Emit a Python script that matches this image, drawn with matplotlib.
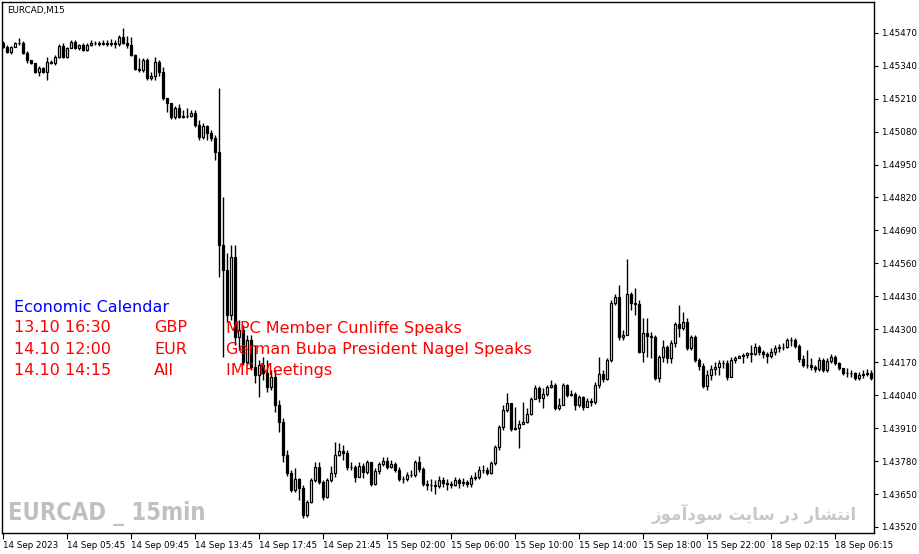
import matplotlib
matplotlib.use("Agg")
import matplotlib.pyplot as plt
import numpy as np

# EURCAD M15, one bar every 15 minutes
first_open = 1.45429
closes = [
    1.45414, 1.45394, 1.45414, 1.45429, 1.45429, 1.45390, 1.45362, 1.45350, 1.45315, 1.45331,
    1.45315, 1.45354, 1.45350, 1.45374, 1.45418, 1.45374, 1.45410, 1.45433, 1.45410, 1.45421,
    1.45402, 1.45421, 1.45429, 1.45429, 1.45425, 1.45429, 1.45425, 1.45429, 1.45425, 1.45453,
    1.45429, 1.45421, 1.45382, 1.45327, 1.45323, 1.45362, 1.45291, 1.45299, 1.45354, 1.45315,
    1.45212, 1.45193, 1.45137, 1.45173, 1.45137, 1.45141, 1.45141, 1.45153, 1.45106, 1.45058,
    1.45102, 1.45074, 1.45055, 1.44999, 1.44633, 1.44534, 1.44356, 1.44585, 1.44270, 1.44297,
    1.44171, 1.44258, 1.44151, 1.44120, 1.44159, 1.44128, 1.44072, 1.44112, 1.44001, 1.43934,
    1.43804, 1.43733, 1.43666, 1.43709, 1.43674, 1.43567, 1.43619, 1.43705, 1.43757, 1.43697,
    1.43638, 1.43705, 1.43733, 1.43804, 1.43820, 1.43812, 1.43757, 1.43757, 1.43717, 1.43761,
    1.43737, 1.43776, 1.43690, 1.43741, 1.43768, 1.43780, 1.43757, 1.43768, 1.43745, 1.43709,
    1.43709, 1.43725, 1.43725, 1.43776, 1.43749, 1.43690, 1.43686, 1.43686, 1.43682, 1.43705,
    1.43694, 1.43690, 1.43686, 1.43705, 1.43694, 1.43697, 1.43690, 1.43713, 1.43717, 1.43745,
    1.43745, 1.43733, 1.43772, 1.43836, 1.43915, 1.43981, 1.44009, 1.43907, 1.43911, 1.43926,
    1.43934, 1.43966, 1.44025, 1.44068, 1.44029, 1.44045, 1.44072, 1.44080, 1.43989, 1.44001,
    1.44080, 1.44041, 1.44045, 1.44001, 1.44033, 1.43993, 1.44017, 1.44013, 1.44080, 1.44124,
    1.44104, 1.44179, 1.44404, 1.44427, 1.44270, 1.44277, 1.44439, 1.44404, 1.44400, 1.44210,
    1.44285, 1.44274, 1.44270, 1.44108, 1.44191, 1.44230, 1.44187, 1.44246, 1.44321, 1.44305,
    1.44329, 1.44226, 1.44270, 1.44179, 1.44155, 1.44076, 1.44120, 1.44143, 1.44151, 1.44167,
    1.44167, 1.44112, 1.44179, 1.44187, 1.44195, 1.44199, 1.44206, 1.44203, 1.44230, 1.44210,
    1.44203, 1.44195, 1.44210, 1.44226, 1.44230, 1.44230, 1.44258, 1.44258, 1.44234, 1.44183,
    1.44159, 1.44159, 1.44151, 1.44143, 1.44179, 1.44139, 1.44175, 1.44191, 1.44167, 1.44147,
    1.44128, 1.44128, 1.44128, 1.44108, 1.44120, 1.44124, 1.44128, 1.44108,
]
highs = [
    1.45437, 1.45421, 1.45418, 1.45433, 1.45449, 1.45437, 1.45398, 1.45362, 1.45350, 1.45339,
    1.45335, 1.45374, 1.45362, 1.45382, 1.45425, 1.45429, 1.45414, 1.45441, 1.45441, 1.45425,
    1.45429, 1.45429, 1.45441, 1.45437, 1.45437, 1.45441, 1.45441, 1.45445, 1.45441, 1.45461,
    1.45489, 1.45457, 1.45453, 1.45386, 1.45370, 1.45370, 1.45370, 1.45315, 1.45374, 1.45362,
    1.45335, 1.45212, 1.45193, 1.45181, 1.45189, 1.45165, 1.45173, 1.45165, 1.45165, 1.45126,
    1.45114, 1.45106, 1.45086, 1.45066, 1.45252, 1.44822, 1.44601, 1.44633, 1.44633, 1.44337,
    1.44317, 1.44277, 1.44277, 1.44238, 1.44179, 1.44191, 1.44179, 1.44139, 1.44139, 1.44021,
    1.43950, 1.43824, 1.43745, 1.43753, 1.43713, 1.43686, 1.43627, 1.43713, 1.43776, 1.43776,
    1.43705, 1.43713, 1.43761, 1.43855, 1.43851, 1.43843, 1.43824, 1.43776, 1.43765, 1.43776,
    1.43772, 1.43784, 1.43776, 1.43753, 1.43776, 1.43796, 1.43796, 1.43784, 1.43776, 1.43757,
    1.43721, 1.43737, 1.43745, 1.43784, 1.43800, 1.43757, 1.43705, 1.43709, 1.43705, 1.43721,
    1.43717, 1.43709, 1.43701, 1.43717, 1.43713, 1.43713, 1.43705, 1.43725, 1.43737, 1.43761,
    1.43765, 1.43757, 1.43780, 1.43843, 1.43922, 1.44001, 1.44049, 1.44009, 1.43993, 1.43942,
    1.44013, 1.43989, 1.44033, 1.44080, 1.44076, 1.44068, 1.44080, 1.44100, 1.44088, 1.44029,
    1.44088, 1.44084, 1.44060, 1.44053, 1.44041, 1.44037, 1.44029, 1.44029, 1.44092, 1.44191,
    1.44139, 1.44187, 1.44416, 1.44439, 1.44475, 1.44297, 1.44577, 1.44447, 1.44463, 1.44416,
    1.44345, 1.44345, 1.44289, 1.44277, 1.44199, 1.44258, 1.44238, 1.44258, 1.44329, 1.44396,
    1.44368, 1.44345, 1.44277, 1.44277, 1.44187, 1.44167, 1.44139, 1.44159, 1.44171, 1.44179,
    1.44179, 1.44179, 1.44191, 1.44195, 1.44199, 1.44206, 1.44210, 1.44238, 1.44246, 1.44238,
    1.44218, 1.44210, 1.44226, 1.44238, 1.44242, 1.44246, 1.44266, 1.44270, 1.44266, 1.44242,
    1.44199, 1.44218, 1.44187, 1.44159, 1.44191, 1.44187, 1.44187, 1.44203, 1.44199, 1.44171,
    1.44147, 1.44147, 1.44139, 1.44132, 1.44132, 1.44139, 1.44143, 1.44139,
]
lows = [
    1.45410, 1.45390, 1.45386, 1.45414, 1.45421, 1.45386, 1.45350, 1.45347, 1.45311, 1.45299,
    1.45311, 1.45283, 1.45347, 1.45343, 1.45370, 1.45370, 1.45370, 1.45410, 1.45406, 1.45402,
    1.45398, 1.45398, 1.45418, 1.45421, 1.45418, 1.45421, 1.45418, 1.45418, 1.45410, 1.45418,
    1.45425, 1.45410, 1.45378, 1.45323, 1.45315, 1.45315, 1.45283, 1.45283, 1.45283, 1.45299,
    1.45205, 1.45157, 1.45130, 1.45130, 1.45134, 1.45134, 1.45134, 1.45137, 1.45098, 1.45047,
    1.45051, 1.45047, 1.45043, 1.44968, 1.44506, 1.44191, 1.44329, 1.44337, 1.44238, 1.44218,
    1.44159, 1.44159, 1.44139, 1.44088, 1.44033, 1.44100, 1.44053, 1.44060, 1.43974, 1.43895,
    1.43776, 1.43721, 1.43658, 1.43658, 1.43627, 1.43556, 1.43559, 1.43615, 1.43697, 1.43690,
    1.43627, 1.43634, 1.43697, 1.43717, 1.43800, 1.43784, 1.43745, 1.43745, 1.43697, 1.43725,
    1.43713, 1.43729, 1.43682, 1.43686, 1.43729, 1.43761, 1.43749, 1.43753, 1.43737, 1.43701,
    1.43694, 1.43701, 1.43717, 1.43717, 1.43737, 1.43682, 1.43666, 1.43662, 1.43650, 1.43674,
    1.43678, 1.43666, 1.43674, 1.43682, 1.43674, 1.43682, 1.43678, 1.43678, 1.43705, 1.43709,
    1.43733, 1.43725, 1.43729, 1.43765, 1.43824, 1.43903, 1.43974, 1.43899, 1.43903, 1.43832,
    1.43926, 1.43930, 1.43962, 1.44025, 1.44013, 1.43989, 1.44037, 1.44068, 1.43981, 1.43981,
    1.44001, 1.44033, 1.44037, 1.43981, 1.43993, 1.43981, 1.43993, 1.43997, 1.44005, 1.44068,
    1.44092, 1.44100, 1.44171, 1.44396, 1.44258, 1.44258, 1.44277, 1.44376, 1.44356, 1.44206,
    1.44171, 1.44191, 1.44187, 1.44100, 1.44092, 1.44171, 1.44167, 1.44167, 1.44230, 1.44270,
    1.44297, 1.44218, 1.44218, 1.44171, 1.44139, 1.44068, 1.44060, 1.44100, 1.44120, 1.44120,
    1.44147, 1.44100, 1.44124, 1.44167, 1.44187, 1.44167, 1.44187, 1.44171, 1.44199, 1.44199,
    1.44187, 1.44167, 1.44187, 1.44199, 1.44210, 1.44218, 1.44226, 1.44234, 1.44226, 1.44171,
    1.44151, 1.44147, 1.44139, 1.44132, 1.44135, 1.44132, 1.44132, 1.44167, 1.44159, 1.44139,
    1.44120, 1.44112, 1.44112, 1.44100, 1.44100, 1.44108, 1.44116, 1.44100,
]

time_labels = ["14 Sep 2023", "14 Sep 05:45", "14 Sep 09:45", "14 Sep 13:45", "14 Sep 17:45",
               "14 Sep 21:45", "15 Sep 02:00", "15 Sep 06:00", "15 Sep 10:00", "15 Sep 14:00",
               "15 Sep 18:00", "15 Sep 22:00", "18 Sep 02:15", "18 Sep 06:15"]
price_ticks = [1.45470, 1.45340, 1.45210, 1.45080, 1.44950, 1.44820, 1.44690, 1.44560,
               1.44430, 1.44300, 1.44170, 1.44040, 1.43910, 1.43780, 1.43650, 1.43520]

ev_times = ["13.10 16:30", "14.10 12:00", "14.10 14:15"]
ev_currency = ["GBP", "EUR", "All"]
ev_titles = ["MPC Member Cunliffe Speaks", "German Buba President Nagel Speaks", "IMF Meetings"]

W, H = 920, 554
fig = plt.figure(figsize=(W / 100, H / 100), dpi=100, facecolor="white")
ax = fig.add_axes([2.5 / W, 1 - 533 / H, 872 / W, 531 / H])

c = np.array(closes)
o = np.r_[first_open, c[:-1]]
x = np.arange(len(c))
up = c >= o
bottom = np.minimum(o, c)
height = np.maximum(np.abs(c - o), 0.000004)

ax.vlines(x, lows, highs, color="black", lw=1.0, zorder=2)
ax.bar(x[up], height[up], bottom=bottom[up], width=0.68, facecolor="white",
       edgecolor="black", lw=0.9, zorder=3)
ax.bar(x[~up], height[~up], bottom=bottom[~up], width=0.68, facecolor="black",
       edgecolor="black", lw=0.9, zorder=3)

ax.set_xlim(-0.125, 217.875)
ax.set_ylim(1.434963, 1.455911)

ax.yaxis.tick_right()
ax.set_yticks(price_ticks)
ax.set_yticklabels([f"{p:.5f}" for p in price_ticks])
ax.tick_params(axis="y", direction="out", length=3, width=0.8, pad=2, labelsize=6.3)
ax.set_xticks(np.arange(0, 16 * len(time_labels), 16))
ax.set_xticklabels(time_labels, ha="left")
ax.tick_params(axis="x", direction="out", length=4, width=0.8, pad=1.5, labelsize=6.3)
for s in ax.spines.values():
    s.set_linewidth(1.0)
    s.set_color("black")


def px(a, b):
    return a / W, 1 - b / H


fig.text(*px(7, 10), "EURCAD,M15", fontsize=6.3, va="center", ha="left")

fs = 11.5
fig.text(*px(14, 307), "Economic Calendar", color="#0000ff", fontsize=fs, va="center")
for k in range(3):
    yy = 328 + 21.3 * k
    fig.text(*px(14, yy), ev_times[k], color="#ff0000", fontsize=fs, va="center")
    fig.text(*px(154, yy), ev_currency[k], color="#ff0000", fontsize=fs, va="center")
    fig.text(*px(226, yy), ev_titles[k], color="#ff0000", fontsize=fs, va="center", zorder=5)

fig.text(*px(8, 514), "EURCAD _ 15min", color="#c0c0c0", fontsize=17, weight="bold",
         family=["DejaVu Sans"], stretch="condensed", va="center", ha="left")

# Persian watermark, written in presentation forms, right-to-left order
persian = ("\ufeaf\ufeee\ufee3\ufe81\ufea9\ufeee\ufeb3 "
           "\ufe96\ufef3\ufe8e\ufeb3 "
           "\ufead\ufea9 "
           "\ufead\ufe8e\ufeb8\ufe98\ufee7\ufe8d")
fig.text(*px(857, 514), persian, color="#c8c8c8", fontsize=12, weight="bold",
         family=["DejaVu Sans"], va="center", ha="right")

fig.savefig("out.png", dpi=100, facecolor="white")
